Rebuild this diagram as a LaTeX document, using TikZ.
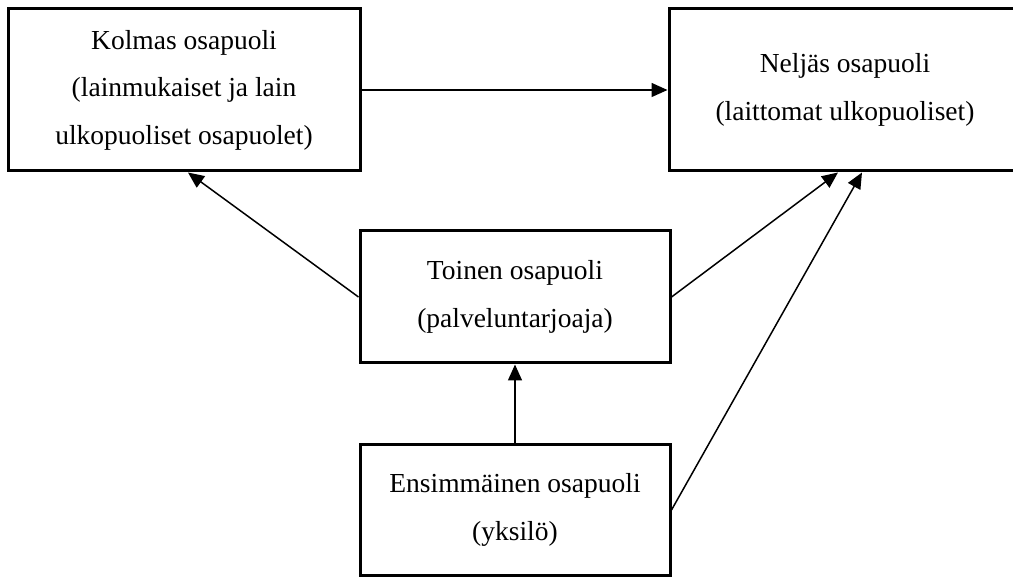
\documentclass[tikz,border=0pt]{standalone}
\usepackage{fontspec}
\setmainfont{Liberation Serif}
\usetikzlibrary{arrows.meta}
\begin{document}
\begin{tikzpicture}[x=1pt,y=-1pt,
  party/.style={draw, line width=3pt, inner sep=0pt, align=center,
    font=\fontsize{27.5}{47.5}\selectfont},
  link/.style={line width=1.5pt, -{Triangle[length=16pt,width=14pt]}}]
\useasboundingbox (0,0) rectangle (1013,577);

% the four parties
\node[party, minimum width=352pt, minimum height=162pt] (k) at (184,90)
  {Kolmas osapuoli\\(lainmukaiset ja lain\\ulkopuoliset osapuolet)};
\node[party, minimum width=352pt, minimum height=162pt] (n) at (845,90)
  {Neljäs osapuoli\\(laittomat ulkopuoliset)};
\node[party, minimum width=310pt, minimum height=132pt] (t) at (515,297)
  {Toinen osapuoli\\(palveluntarjoaja)};
\node[party, minimum width=310pt, minimum height=130pt] (e) at (515,510)
  {Ensimmäinen osapuoli\\(yksilö)};

% flows of information between the parties
\draw[link] (k.east) -- (n.west);
\draw[link] (t.west) -- ([xshift=4pt]k.south);
\draw[link] (t.east) -- ([xshift=-7pt]n.south);
\draw[link] (e.north) -- (t.south);
\draw[link] (e.east) -- ([xshift=17pt]n.south);
\end{tikzpicture}
\end{document}
